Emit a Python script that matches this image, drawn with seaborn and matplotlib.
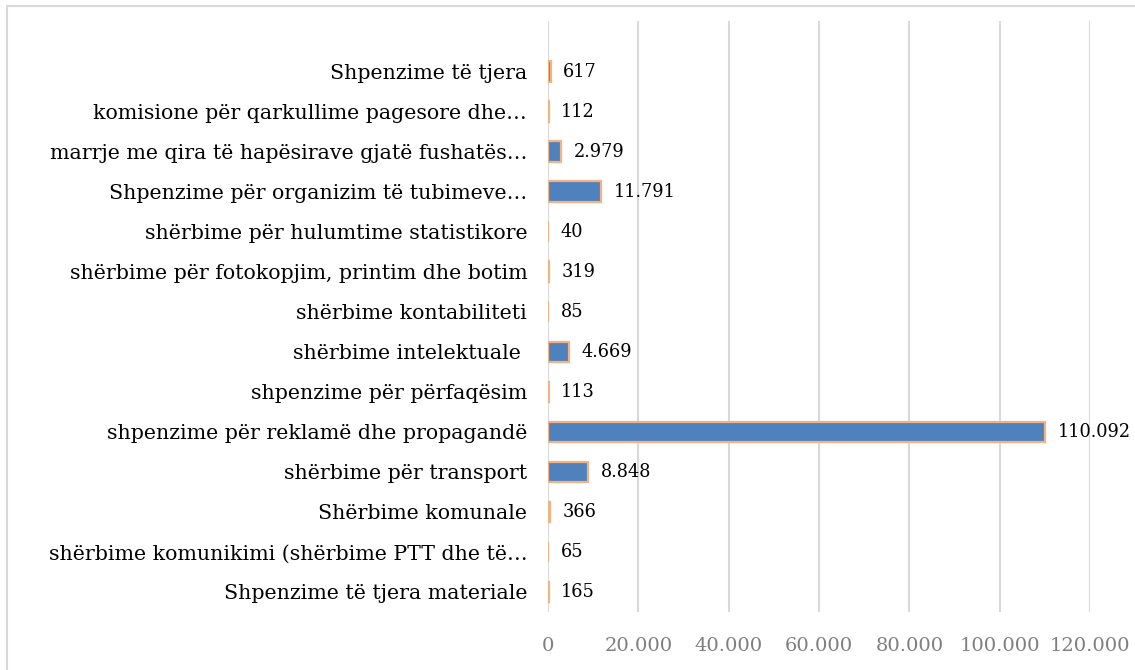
import matplotlib
matplotlib.use('Agg')
import matplotlib.pyplot as plt
import seaborn as sns
import pandas as pd
from matplotlib.ticker import FuncFormatter
from matplotlib.lines import Line2D

# data (top to bottom)
categories = [
    "Shpenzime të tjera",
    "komisione për qarkullime pagesore dhe…",
    "marrje me qira të hapësirave gjatë fushatës…",
    "Shpenzime për organizim të tubimeve…",
    "shërbime për hulumtime statistikore",
    "shërbime për fotokopjim, printim dhe botim",
    "shërbime kontabiliteti",
    "shërbime intelektuale ",
    "shpenzime për përfaqësim",
    "shpenzime për reklamë dhe propagandë",
    "shërbime për transport",
    "Shërbime komunale",
    "shërbime komunikimi (shërbime PTT dhe të…",
    "Shpenzime të tjera materiale",
]
values = [617, 112, 2979, 11791, 40, 319, 85, 4669, 113, 110092, 8848, 366, 65, 165]
x_ticks = [0, 20000, 40000, 60000, 80000, 100000, 120000]

df = pd.DataFrame({'category': categories, 'value': values})


def fmt_num(v, pos=None):
    # Albanian style: dot as thousands separator
    return f"{int(v):,}".replace(',', '.')


sns.set_theme(style="white")
plt.rcParams['font.family'] = ['DejaVu Serif']

fig = plt.figure(figsize=(11.35, 6.7), dpi=100)
ax = fig.add_axes([548 / 1135, 1 - 612 / 670, (1090 - 548) / 1135, (612 - 21) / 670])

sns.barplot(data=df, x='value', y='category', orient='h', color='#4f81bd', saturation=1,
            edgecolor='#f4b183', linewidth=1.6, width=0.52, ax=ax, zorder=3)

# value labels to the right of each bar
for i, v in enumerate(values):
    ax.annotate(fmt_num(v), xy=(v, i), xytext=(9, 0), textcoords='offset points',
                ha='left', va='center', fontsize=12.8, color='black')

ax.set_xlim(0, 120000)
ax.set_ylim(len(categories) - 0.5, -1.27)
ax.set_xticks(x_ticks)
ax.xaxis.set_major_formatter(FuncFormatter(fmt_num))
ax.grid(axis='x', color='#d9d9d9', linewidth=1.5, zorder=0)
ax.set_axisbelow(True)
ax.set_xlabel('')
ax.set_ylabel('')
sns.despine(ax=ax, left=True, bottom=True)
ax.tick_params(axis='x', length=0, pad=18, labelsize=14, labelcolor='#7f7f7f')
ax.tick_params(axis='y', length=0, pad=15, labelsize=14.8, labelcolor='black')

# light outer frame (left and top edges visible)
fig.add_artist(Line2D([7 / 1135, 7 / 1135], [0, 1 - 6 / 670], transform=fig.transFigure,
                      color='#d9d9d9', linewidth=1.5))
fig.add_artist(Line2D([7 / 1135, 1], [1 - 6 / 670, 1 - 6 / 670], transform=fig.transFigure,
                      color='#d9d9d9', linewidth=1.5))

fig.savefig('out.png', dpi=100)
